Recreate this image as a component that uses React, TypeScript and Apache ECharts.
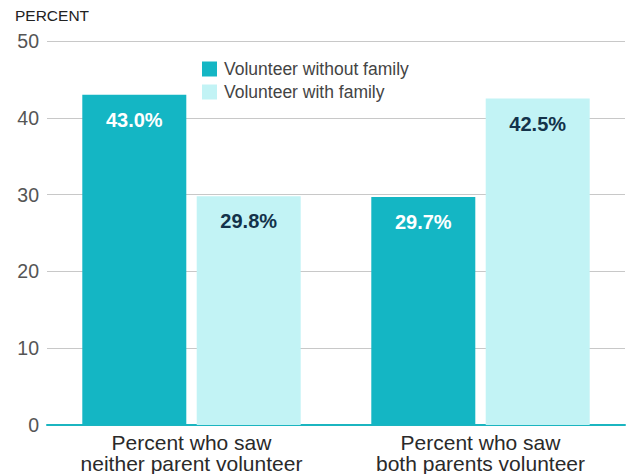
import React, { useEffect, useRef } from "react";
import * as echarts from "echarts";

const categories = ["Percent who saw\nneither parent volunteer", "Percent who saw\nboth parents volunteer"];
const withoutFamily = [43.0, 29.7];
const withFamily = [29.8, 42.5];
const seriesNames = ["Volunteer without family", "Volunteer with family"];

export default function App() {
  const ref = useRef<HTMLDivElement>(null);
  useEffect(() => {
    const chart = echarts.init(ref.current!, null, { renderer: "svg" });
    const font = "'Liberation Sans', Arial, sans-serif";
    chart.setOption({
      animation: false,
      textStyle: { fontFamily: font },
      title: {
        text: "PERCENT",
        left: 10,
        top: 2,
        textStyle: { fontSize: 15.5, fontWeight: "normal", color: "#222", fontFamily: font },
      },
      legend: {
        orient: "vertical",
        left: 197,
        top: 55,
        itemWidth: 15,
        itemHeight: 15,
        itemGap: 5,
        icon: "rect",
        textStyle: { fontSize: 17.5, color: "#444", fontFamily: font, padding: [0, 0, 0, 2] },
        data: seriesNames,
      },
      grid: { left: 47, right: 1, top: 41, bottom: 49, containLabel: false },
      xAxis: {
        type: "category",
        data: categories,
        axisLine: { lineStyle: { color: "#1bb5c0", width: 2 } },
        axisTick: { show: false },
        axisLabel: { fontSize: 21, color: "#2a2a2a", lineHeight: 21, margin: 7, fontFamily: font },
      },
      yAxis: {
        type: "value",
        min: 0,
        max: 50,
        interval: 10,
        axisLine: { show: false },
        axisTick: { show: false },
        axisLabel: { fontSize: 19.5, color: "#555", margin: 8, fontFamily: font },
        splitLine: { lineStyle: { color: "#c8c8c8", width: 1 } },
      },
      series: [
        {
          name: seriesNames[0],
          type: "bar",
          data: withoutFamily,
          barWidth: 104,
          barGap: "10%",
          itemStyle: { color: "#14b6c4" },
          label: {
            show: true,
            position: "insideTop",
            distance: 15,
            formatter: (p: any) => p.value.toFixed(1) + "%",
            color: "#ffffff",
            fontWeight: "bold",
            fontSize: 20,
            fontFamily: font,
          },
        },
        {
          name: seriesNames[1],
          type: "bar",
          data: withFamily,
          barWidth: 104,
          itemStyle: { color: "#c2f3f5" },
          label: {
            show: true,
            position: "insideTop",
            distance: 15,
            formatter: (p: any) => p.value.toFixed(1) + "%",
            color: "#13324a",
            fontWeight: "bold",
            fontSize: 20,
            fontFamily: font,
          },
        },
      ],
    });
    return () => chart.dispose();
  }, []);
  return (
    <div
      ref={ref}
      style={{ position: "fixed", left: 0, top: 0, width: 626, height: 474, background: "#fff" }}
    />
  );
}
